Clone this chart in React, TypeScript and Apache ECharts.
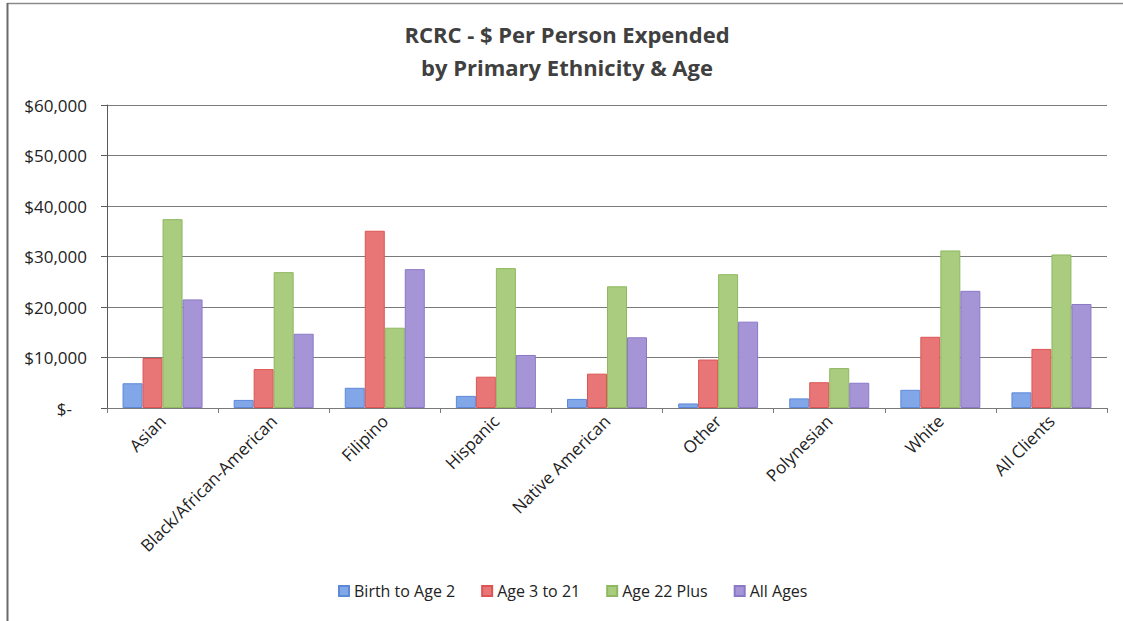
import React, { useEffect, useRef } from "react";
import * as echarts from "echarts";

const categories = [
  "Asian",
  "Black/African-American",
  "Filipino",
  "Hispanic",
  "Native American",
  "Other",
  "Polynesian",
  "White",
  "All Clients",
];

const seriesNames = ["Birth to Age 2", "Age 3 to 21", "Age 22 Plus", "All Ages"];

const birthToAge2 = [4900, 1600, 4000, 2400, 1800, 900, 1900, 3600, 3100];
const age3to21 = [9900, 7700, 35100, 6200, 6800, 9600, 5100, 14100, 11700];
const age22Plus = [37400, 26900, 15900, 27700, 24100, 26500, 7900, 31200, 30400];
const allAges = [21500, 14700, 27500, 10500, 14000, 17100, 5000, 23200, 20600];

const yTicks = [0, 10000, 20000, 30000, 40000, 50000, 60000];

const titleLines = ["RCRC - $ Per Person Expended", "by Primary Ethnicity & Age"];

const fills = ["#82a7e8", "#e97676", "#a9cc7e", "#a695d6"];
const borders = ["#5d89d8", "#dc5454", "#8fb860", "#8b78c6"];

const FONT = "'Open Sans', 'Noto Sans', sans-serif";

export default function App() {
  const ref = useRef<HTMLDivElement>(null);

  useEffect(() => {
    if (!ref.current) return;
    const chart = echarts.init(ref.current, undefined, { renderer: "svg" });
    const data = [birthToAge2, age3to21, age22Plus, allAges];
    chart.setOption({
      animation: false,
      backgroundColor: "#ffffff",
      textStyle: { fontFamily: FONT },
      graphic: [
        {
          type: "line",
          shape: { x1: 7, y1: 3.5, x2: 1123, y2: 3.5 },
          style: { stroke: "#8a8a8a", lineWidth: 1.5 },
        },
        {
          type: "line",
          shape: { x1: 7.5, y1: 3, x2: 7.5, y2: 621 },
          style: { stroke: "#6a6a6a", lineWidth: 2 },
        },
        {
          type: "text",
          x: 567,
          y: 34,
          style: {
            text: titleLines[0],
            align: "center",
            verticalAlign: "middle",
            fontFamily: FONT,
            fontSize: 22,
            fontWeight: "bold",
            fill: "#404040",
          },
        },
        {
          type: "text",
          x: 567,
          y: 67,
          style: {
            text: titleLines[1],
            align: "center",
            verticalAlign: "middle",
            fontFamily: FONT,
            fontSize: 22,
            fontWeight: "bold",
            fill: "#404040",
          },
        },
      ],
      legend: {
        data: seriesNames,
        bottom: 17,
        left: 333,
        itemWidth: 10,
        itemHeight: 10,
        itemGap: 26,
        icon: "rect",
        textStyle: { fontSize: 16, color: "#222", fontFamily: FONT },
      },
      grid: {
        left: 107,
        right: 16,
        top: 105,
        bottom: 213,
        containLabel: false,
      },
      xAxis: {
        type: "category",
        data: categories,
        boundaryGap: true,
        axisLine: { show: true, lineStyle: { color: "#7a7a7a", width: 1 } },
        axisTick: { show: true, alignWithLabel: false, length: 5, lineStyle: { color: "#7a7a7a" } },
        axisLabel: {
          rotate: 45,
          interval: 0,
          margin: 10,
          fontSize: 17,
          color: "#222",
          fontFamily: FONT,
        },
      },
      yAxis: {
        type: "value",
        min: 0,
        max: 60000,
        interval: 10000,
        axisLine: { show: true, lineStyle: { color: "#5a5a5a", width: 1 } },
        axisTick: { show: true, length: 6, lineStyle: { color: "#5a5a5a" } },
        splitLine: { show: true, lineStyle: { color: "#7a7a7a", width: 1 } },
        axisLabel: {
          margin: 20,
          fontSize: 17,
          color: "#222",
          fontFamily: FONT,
          formatter: (v: number) =>
            yTicks.includes(v) && v === 0
              ? "{z|$-}"
              : "$" + v.toLocaleString("en-US"),
          rich: {
            z: { padding: [0, 15, 0, 0], fontSize: 17, color: "#222", fontFamily: FONT },
          },
        },
      },
      series: seriesNames.map((name, i) => ({
        name,
        type: "bar",
        data: data[i],
        barGap: "0%",
        barCategoryGap: "28%",
        itemStyle: { color: fills[i], borderColor: borders[i], borderWidth: 1 },
      })),
      color: fills,
    });
    return () => chart.dispose();
  }, []);

  return (
    <div
      ref={ref}
      style={{ position: "fixed", left: 0, top: 0, width: 1123, height: 621 }}
    />
  );
}
